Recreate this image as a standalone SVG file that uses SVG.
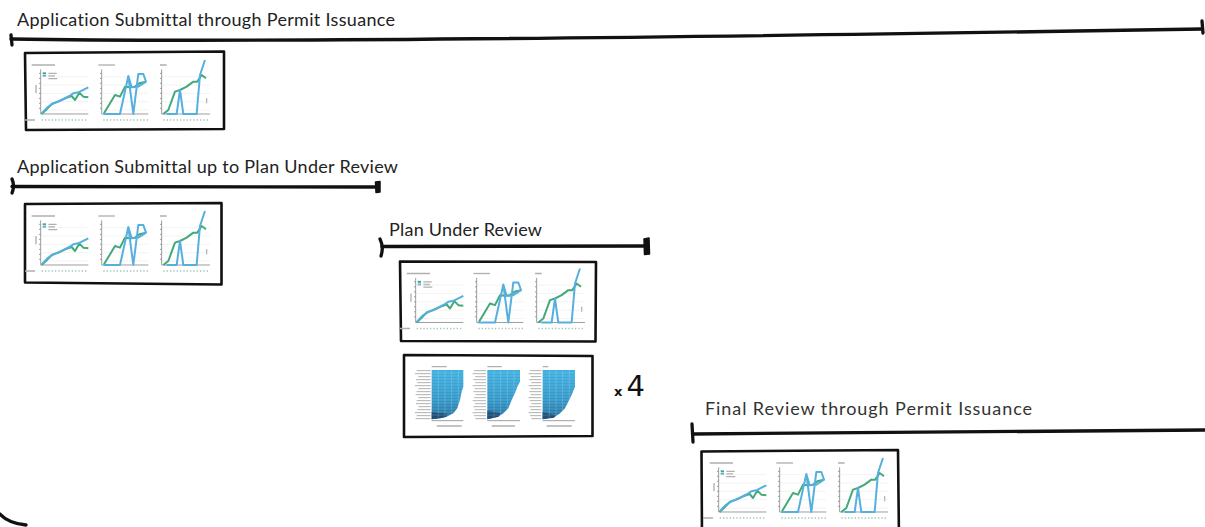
<svg xmlns="http://www.w3.org/2000/svg" xmlns:xlink="http://www.w3.org/1999/xlink" width="1205" height="527" viewBox="0 0 1205 527">
<style>
.title{font-family:Lato,"Open Sans","Liberation Sans",sans-serif;font-size:18px;fill:#222;font-variant-ligatures:none}
.bar{fill:none;stroke:#111;stroke-width:3.3;stroke-linecap:round;stroke-linejoin:round}
.end{fill:#111;stroke:#111;stroke-width:1.5;stroke-linejoin:round}
.panel{fill:#fff;stroke:#111;stroke-width:2.6;stroke-linejoin:round}
.ax{fill:none;stroke:#8a8a8a;stroke-width:2.5}
.grid{fill:none;stroke:#e6e6e6;stroke-width:1.5}
.txt{fill:none;stroke:#b0b0b0;stroke-width:4}
.lbl{fill:none;stroke:#a2c6bc;stroke-width:4;stroke-dasharray:4 6}
.gl{fill:none;stroke:#43a87a;stroke-width:6;stroke-linejoin:round}
.bl{fill:none;stroke:#55b0df;stroke-width:6;stroke-linejoin:round}
.hm{fill:url(#hmg)}
.hd{fill:#1d4f78}
.hw{fill:none;stroke:#ffffff;stroke-opacity:0.35;stroke-width:1.5}
.x4{font-family:"DejaVu Sans","Liberation Sans",sans-serif;fill:#111}
</style>
<defs>
<linearGradient id="hmg" x1="0" y1="0" x2="0" y2="1">
<stop offset="0" stop-color="#3fb0e0"/>
<stop offset="0.6" stop-color="#3096c8"/>
<stop offset="1" stop-color="#236f9f"/>
</linearGradient>
<g id="lc">
<!-- chart A -->
<path class="txt" d="M35,45H105M85,70H110M85,78H105M85,86H112M48,105V130M15,210H45"/>
<path class="gl" d="M68,70H78"/>
<path class="bl" d="M68,78H78"/>
<path class="grid" d="M62,80H205M62,105H205M62,130H205M62,155H205M62,180H205"/>
<path class="ax" d="M62,58V192H205M57,70H62M57,85H62M57,100H62M57,115H62M57,130H62M57,145H62M57,160H62M57,175H62"/>
<path class="lbl" d="M65,210H205"/>
<path class="gl" d="M65,192 80,178 95,162 115,155 135,145 155,138 165,150 178,128 190,140 205,142"/>
<path class="bl" d="M65,190 82,172 100,160 125,150 148,138 160,130 175,127 205,112"/>
<!-- chart B -->
<path class="txt" d="M235,45H285"/>
<path class="grid" d="M245,80H385M245,105H385M245,130H385M245,155H385M245,180H385"/>
<path class="ax" d="M245,58V192H385M240,70H245M240,85H245M240,100H245M240,115H245M240,130H245M240,145H245M240,160H245M240,175H245"/>
<path class="lbl" d="M250,210H385"/>
<path class="gl" d="M252,190 285,135 300,140 315,110 330,112 345,110 358,100 378,95"/>
<path class="bl" d="M250,192 300,192 325,78 340,192 355,72 370,72 378,95 355,110 335,112 325,78"/>
<!-- chart C -->
<path class="txt" d="M420,45H440M560,145V160"/>
<path class="grid" d="M425,80H570M425,105H570M425,130H570M425,155H570M425,180H570"/>
<path class="ax" d="M425,58V192H570M420,70H425M420,85H425M420,100H425M420,115H425M420,130H425M420,145H425M420,160H425M420,175H425"/>
<path class="lbl" d="M430,210H570"/>
<path class="gl" d="M430,192 445,180 465,125 480,120 500,110 520,95 532,95 545,75 558,85"/>
<path class="bl" d="M440,192 470,192 480,120 490,192 530,192 540,75 555,30"/>
</g>
</defs>

<g id="sec-full">
<text class="title" x="17" y="26" textLength="378" lengthAdjust="spacing">Application Submittal through Permit Issuance</text>
<path class="bar" d="M11,39 Q300,44 1202,29"/>
<path class="bar" d="M11,35 L12,45M1202,21 L1203,33"/>
<path class="panel" d="M25,53 L224,51.5 L224,129 L26,130 Z"/>
<use href="#lc" transform="translate(20,50) scale(0.3333)"/>
</g>

<g id="sec-intake">
<text class="title" x="17" y="173" textLength="381" lengthAdjust="spacing">Application Submittal up to Plan Under Review</text>
<path class="bar" d="M12,186.5 L378,187"/>
<path class="bar" d="M12,179 Q15,186 12,193"/>
<path class="end" d="M375.5,182 L380,181.5 L380,192 L376,192.5 Z"/>
<path class="panel" d="M25,204 L221.5,203 L221.5,284.5 L25,282.5 Z"/>
<use href="#lc" transform="translate(20,201) scale(0.3333)"/>
</g>

<g id="sec-review">
<text class="title" x="389" y="236" textLength="153" lengthAdjust="spacing">Plan Under Review</text>
<path class="bar" d="M382,246.5 L647,246"/>
<path class="bar" d="M380,239 Q384,247 381,256"/>
<path class="end" d="M644,239 L649,238 L649.5,254 L644.5,254.5 Z"/>
<path class="panel" d="M400,261.5 L596,262 L595.5,341.5 L401,341 Z"/>
<use href="#lc" transform="translate(395,258.5) scale(0.3333)"/>
<path class="panel" d="M404,355 L592.5,356 L592.5,436 L404,437 Z"/>
<g transform="translate(400,350) scale(0.3333)">
<path class="txt" d="M95,50H140M262,50H305M428,50H445M110,228H185M275,228H345M440,228H515"/>
<path class="txt" style="stroke-width:3" d="M50,62H92M45,71H92M55,80H92M48,89H92M52,98H92M45,107H92M55,116H92M50,125H92M47,134H92M55,143H92M50,152H92M48,161H92M55,170H92M52,179H92M45,188H92M50,197H92M47,206H92
M222,62H258M218,71H258M225,80H258M220,89H258M226,98H258M218,107H258M224,116H258M220,125H258M226,134H258M222,143H258M218,152H258M225,161H258M220,170H258M224,179H258M218,188H258M222,197H258M226,206H258
M390,62H424M386,71H424M392,80H424M388,89H424M394,98H424M386,107H424M392,116H424M388,125H424M392,134H424M386,143H424M390,152H424M394,161H424M388,170H424M392,179H424M386,188H424M390,197H424M394,206H424"/>
<path class="hm" d="M95,60 L190,60 L190,110 L185,125 L180,150 L172,175 L160,190 L140,200 L120,205 L95,208 Z"/>
<path class="hd" d="M95,186 L142,191 L138,201 L120,205 L95,208 Z"/>
<path class="hm" d="M262,60 L360,60 L360,95 L352,110 L345,130 L335,150 L325,175 L310,190 L295,200 L262,208 Z"/>
<path class="hd" d="M262,182 L302,190 L295,200 L262,208 Z"/>
<path class="hm" d="M428,60 L525,60 L525,110 L515,135 L505,155 L495,175 L480,190 L465,200 L428,208 Z"/>
<path class="hd" d="M428,186 L468,196 L462,203 L428,208 Z"/>
<path class="hw" d="M95,69H360M95,78H360M95,87H360M95,96H360M95,105H360M95,114H360M95,123H360M95,132H360M95,141H360M95,150H360M95,159H360M95,168H360M95,177H360M95,186H360M95,195H360
M428,69H525M428,78H525M428,87H525M428,96H525M428,105H525M428,114H525M428,123H525M428,132H525M428,141H525M428,150H525M428,159H525M428,168H525M428,177H525M428,186H525M428,195H525
M115,60V208M135,60V208M155,60V208M175,60V208M282,60V208M302,60V208M322,60V208M342,60V208M448,60V208M468,60V208M488,60V208M508,60V208"/>
<path class="ax" d="M95,212H190M262,212H360M428,212H525"/>
</g>
<text class="x4" x="614" y="396"><tspan font-size="13" font-weight="bold">x</tspan><tspan dx="4" font-size="29">4</tspan></text>
</g>

<g id="sec-final">
<text class="title" x="705" y="415" textLength="327" lengthAdjust="spacing" style="fill:#333">Final Review through Permit Issuance</text>
<path class="bar" d="M693,434 Q950,433 1205,430"/>
<path class="bar" d="M692,424 L693,442"/>
<path class="panel" d="M701.5,451.5 L898,450 L899,540 L702,540 Z"/>
<use href="#lc" transform="translate(698,448) scale(0.3333)"/>
</g>

<g id="connectors">
<path class="bar" d="M0,514 Q8,523 26,525"/>
</g>
</svg>
